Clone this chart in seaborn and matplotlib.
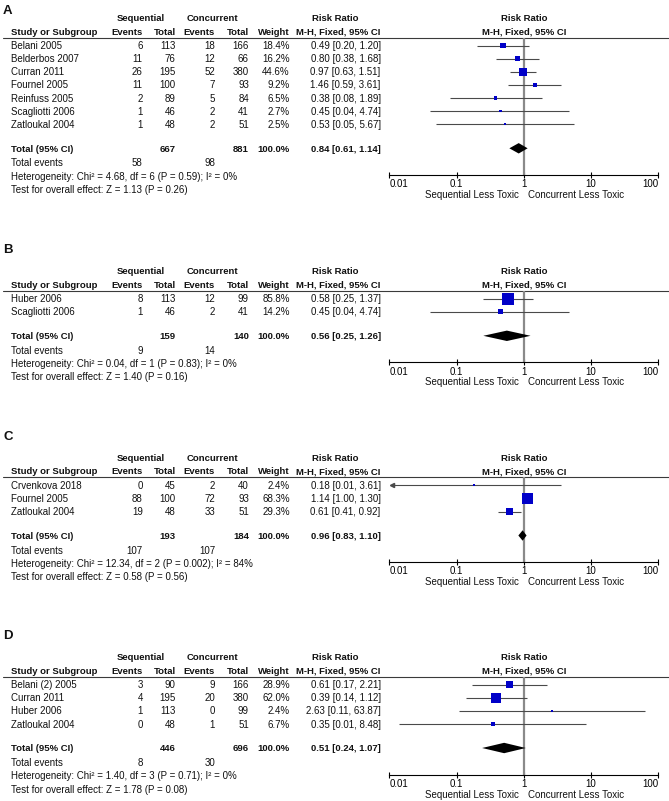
import matplotlib
matplotlib.use("Agg")
import matplotlib.pyplot as plt
import pandas as pd
import seaborn as sns

# ---- Panel A: study rows ----
a_study = ["Belani 2005", "Belderbos 2007", "Curran 2011", "Fournel 2005",
           "Reinfuss 2005", "Scagliotti 2006", "Zatloukal 2004"]
a_seq_ev = [6, 11, 26, 11, 2, 1, 1]
a_seq_n = [113, 76, 195, 100, 89, 46, 48]
a_con_ev = [18, 12, 52, 7, 5, 2, 2]
a_con_n = [166, 66, 380, 93, 84, 41, 51]
a_weight = [18.4, 16.2, 44.6, 9.2, 6.5, 2.7, 2.5]
a_rr = [0.49, 0.80, 0.97, 1.46, 0.38, 0.45, 0.53]
a_lo = [0.20, 0.38, 0.63, 0.59, 0.08, 0.04, 0.05]
a_hi = [1.20, 1.68, 1.51, 3.61, 1.89, 4.74, 5.67]
a_totals = [667, 881, 58, 98]          # seq N, conc N, seq events, conc events
a_pooled = [0.84, 0.61, 1.14]
a_het = "Heterogeneity: Chi² = 4.68, df = 6 (P = 0.59); I² = 0%"
a_test = "Test for overall effect: Z = 1.13 (P = 0.26)"

# ---- Panel B ----
b_study = ["Huber 2006", "Scagliotti 2006"]
b_seq_ev = [8, 1]
b_seq_n = [113, 46]
b_con_ev = [12, 2]
b_con_n = [99, 41]
b_weight = [85.8, 14.2]
b_rr = [0.58, 0.45]
b_lo = [0.25, 0.04]
b_hi = [1.37, 4.74]
b_totals = [159, 140, 9, 14]
b_pooled = [0.56, 0.25, 1.26]
b_het = "Heterogeneity: Chi² = 0.04, df = 1 (P = 0.83); I² = 0%"
b_test = "Test for overall effect: Z = 1.40 (P = 0.16)"

# ---- Panel C ----
c_study = ["Crvenkova 2018", "Fournel 2005", "Zatloukal 2004"]
c_seq_ev = [0, 88, 19]
c_seq_n = [45, 100, 48]
c_con_ev = [2, 72, 33]
c_con_n = [40, 93, 51]
c_weight = [2.4, 68.3, 29.3]
c_rr = [0.18, 1.14, 0.61]
c_lo = [0.009, 1.00, 0.41]   # shown as 0.01, runs off the scale (arrow)
c_hi = [3.61, 1.30, 0.92]
c_totals = [193, 184, 107, 107]
c_pooled = [0.96, 0.83, 1.10]
c_het = "Heterogeneity: Chi² = 12.34, df = 2 (P = 0.002); I² = 84%"
c_test = "Test for overall effect: Z = 0.58 (P = 0.56)"

# ---- Panel D ----
d_study = ["Belani (2) 2005", "Curran 2011", "Huber 2006", "Zatloukal 2004"]
d_seq_ev = [3, 4, 1, 0]
d_seq_n = [90, 195, 113, 48]
d_con_ev = [9, 20, 0, 1]
d_con_n = [166, 380, 99, 51]
d_weight = [28.9, 62.0, 2.4, 6.7]
d_rr = [0.61, 0.39, 2.63, 0.35]
d_lo = [0.17, 0.14, 0.11, 0.014]
d_hi = [2.21, 1.12, 63.87, 8.48]
d_totals = [446, 696, 8, 30]
d_pooled = [0.51, 0.24, 1.07]
d_het = "Heterogeneity: Chi² = 1.40, df = 3 (P = 0.71); I² = 0%"
d_test = "Test for overall effect: Z = 1.78 (P = 0.08)"

panels = [
    ("A", a_study, a_seq_ev, a_seq_n, a_con_ev, a_con_n, a_weight, a_rr, a_lo, a_hi, a_totals, a_pooled, a_het, a_test),
    ("B", b_study, b_seq_ev, b_seq_n, b_con_ev, b_con_n, b_weight, b_rr, b_lo, b_hi, b_totals, b_pooled, b_het, b_test),
    ("C", c_study, c_seq_ev, c_seq_n, c_con_ev, c_con_n, c_weight, c_rr, c_lo, c_hi, c_totals, c_pooled, c_het, c_test),
    ("D", d_study, d_seq_ev, d_seq_n, d_con_ev, d_con_n, d_weight, d_rr, d_lo, d_hi, d_totals, d_pooled, d_het, d_test),
]

# layout (pixels)
panel_tops = [17.7, 270.7, 457.3, 656.7]
label_ys = [9.5, 248.0, 435.0, 634.3]
STEP = 13.1
X_STUDY, X_SEQ_EV, X_SEQ_N, X_CON_EV, X_CON_N, X_W, X_RR = 11, 142.7, 175.7, 215, 249, 289.7, 380.7
X_SEQ_HDR, X_CON_HDR, X_RR_HDR = 140.5, 212.7, 335
PX0, PX1 = 389.3, 658.3
X_ONE = (PX0 + PX1) / 2

W, H = 669, 801
sns.set_style("white")
plt.rcParams["font.family"] = ["Liberation Sans", "DejaVu Sans"]
FS = 7.0
FS_B = 6.8
TXT = "#111111"

fig = plt.figure(figsize=(W / 100, H / 100), dpi=100)
tab = fig.add_axes([0, 0, 1, 1])
tab.set_xlim(0, W)
tab.set_ylim(H, 0)
tab.axis("off")


def put(x, y, s, ha="left", bold=False, size=None):
    if size is None:
        size = FS_B if bold else FS
    tab.text(x, y + 0.5 * size, s, ha=ha, va="baseline", fontsize=size,
             fontweight="bold" if bold else "normal", color=TXT)


for p, (lab, study, sev, sn, cev, cn, wt, rr, lo, hi, tot, pooled, het, test) in enumerate(panels):
    top = panel_tops[p]
    h2 = top + 13.5
    line_y = top + 20
    rows = [top + 28 + i * STEP for i in range(len(study))]
    total_y = rows[-1] + 24
    ev_y = total_y + 14.5
    het_y = ev_y + 13.3
    test_y = het_y + 13.3
    axis_y = total_y + 26.5
    less_y = axis_y + 19.5

    put(3, label_ys[p], lab, bold=True, size=9.5)

    # headers
    put(X_SEQ_HDR, top, "Sequential", ha="center", bold=True)
    put(X_CON_HDR, top, "Concurrent", ha="center", bold=True)
    put(X_RR_HDR, top, "Risk Ratio", ha="center", bold=True)
    put(X_ONE, top, "Risk Ratio", ha="center", bold=True)
    put(X_STUDY, h2, "Study or Subgroup", bold=True)
    put(X_SEQ_EV, h2, "Events", ha="right", bold=True)
    put(X_SEQ_N, h2, "Total", ha="right", bold=True)
    put(X_CON_EV, h2, "Events", ha="right", bold=True)
    put(X_CON_N, h2, "Total", ha="right", bold=True)
    put(X_W, h2, "Weight", ha="right", bold=True)
    put(X_RR, h2, "M-H, Fixed, 95% CI", ha="right", bold=True)
    put(X_ONE, h2, "M-H, Fixed, 95% CI", ha="center", bold=True)
    tab.plot([3, W], [line_y, line_y], color="#3a3a3a", lw=0.8)

    for i, y in enumerate(rows):
        put(X_STUDY, y, study[i])
        put(X_SEQ_EV, y, str(sev[i]), ha="right")
        put(X_SEQ_N, y, str(sn[i]), ha="right")
        put(X_CON_EV, y, str(cev[i]), ha="right")
        put(X_CON_N, y, str(cn[i]), ha="right")
        put(X_W, y, f"{wt[i]:.1f}%", ha="right")
        put(X_RR, y, f"{rr[i]:.2f} [{lo[i]:.2f}, {hi[i]:.2f}]", ha="right")

    put(X_STUDY, total_y, "Total (95% CI)", bold=True)
    put(X_SEQ_N, total_y, str(tot[0]), ha="right", bold=True)
    put(X_CON_N, total_y, str(tot[1]), ha="right", bold=True)
    put(X_W, total_y, "100.0%", ha="right", bold=True)
    put(X_RR, total_y, f"{pooled[0]:.2f} [{pooled[1]:.2f}, {pooled[2]:.2f}]", ha="right", bold=True)
    put(X_STUDY, ev_y, "Total events")
    put(X_SEQ_EV, ev_y, str(tot[2]), ha="right")
    put(X_CON_EV, ev_y, str(tot[3]), ha="right")
    put(X_STUDY, het_y, het)
    put(X_STUDY, test_y, test)
    put(X_ONE - 5, less_y, "Sequential Less Toxic", ha="right")
    put(X_ONE + 4, less_y, "Concurrent Less Toxic", ha="left")

    # forest plot axes: x log scale, y in pixel rows
    ax = fig.add_axes([PX0 / W, 1 - axis_y / H, (PX1 - PX0) / W, (axis_y - line_y) / H])
    ax.set_facecolor("none")
    ax.set_xscale("log")
    ax.set_xlim(0.01, 100)
    ax.set_ylim(axis_y, line_y)
    for side in ["top", "left", "right"]:
        ax.spines[side].set_visible(False)
    ax.spines["bottom"].set_linewidth(0.8)
    ax.spines["bottom"].set_color("black")
    ax.axvline(1, color="#8a8a8a", lw=1.6, zorder=1)

    df = pd.DataFrame({"rr": rr, "lo": lo, "hi": hi, "w": wt, "y": rows})
    df["lo_draw"] = df["lo"].clip(lower=0.0105)
    ax.hlines(df["y"], df["lo_draw"], df["hi"], color="#4a4a4a", lw=0.8, zorder=2)
    for _, r in df[df["lo"] < 0.01].iterrows():
        ax.plot(0.0108, r["y"], marker="<", ms=3, color="#4a4a4a", clip_on=False, zorder=2)
    sns.scatterplot(data=df, x="rr", y="y", size="w", sizes=(0, 88), size_norm=(0, 100),
                    marker="s", color="#0000c8", linewidth=0, legend=False, ax=ax, zorder=3)
    est, plo, phi = pooled
    ax.fill([plo, est, phi, est], [total_y, total_y - 5.2, total_y, total_y + 5.2],
            color="black", lw=0, zorder=3)

    ticks = [0.01, 0.1, 1, 10, 100]
    ax.set_xticks(ticks)
    ax.set_xticklabels(["0.01", "0.1", "1", "10", "100"])
    ax.minorticks_off()
    ax.set_yticks([])
    ax.tick_params(axis="x", direction="inout", length=5, width=0.8, pad=0.6,
                   labelsize=FS, colors="black", bottom=True)
    labels = ax.get_xticklabels()
    labels[0].set_ha("left")
    labels[-1].set_ha("right")
    ax.set_xlabel("")
    ax.set_ylabel("")

fig.savefig("out.png", dpi=100)
